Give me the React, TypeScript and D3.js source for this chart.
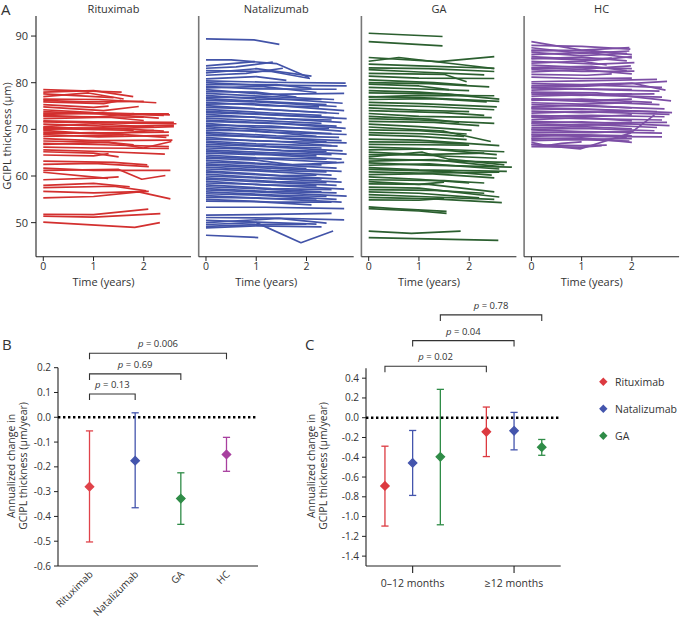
import React from "react";
import * as d3 from "d3";

// ---------- Panel A data ----------
const panelTitles = ["Rituximab", "Natalizumab", "GA", "HC"];
const yTicksA = [50, 60, 70, 80, 90];
const xTicksA = [0, 1, 2];
const colorsA = ["#d3302f", "#4253a8", "#2b5f2f", "#7c4ea5"];

// each subject: [t0, v0, t1, v1, ...] (time in years, GCIPL µm)
const rituximabTraj: number[][] = [
  [0, 78.5, 1.56, 78.0],
  [0, 78.0, 1.0, 78.3, 1.79, 77.0],
  [0, 77.6, 1.4, 76.8],
  [0, 77.0, 0.9, 77.8, 1.6, 76.5],
  [0, 76.5, 1.1, 76.4, 2.25, 75.7],
  [0, 76.2, 0.8, 75.9, 2.0, 76.0],
  [0, 75.9, 1.2, 75.5, 1.55, 76.2],
  [0, 75.3, 1.0, 74.7, 1.3, 75.0],
  [0, 74.8, 1.2, 74.0, 1.9, 74.9],
  [0, 74.2, 1.0, 73.6, 2.52, 73.1],
  [0, 73.8, 1.2, 73.3, 2.5, 73.3],
  [0, 73.5, 1.5, 73.3, 2.4, 73.0],
  [0, 73.2, 1.0, 73.5, 2.3, 72.4],
  [0, 73.0, 1.0, 72.6, 1.8, 73.4],
  [0, 72.8, 2.0, 72.6],
  [0, 72.3, 1.3, 72.6, 2.0, 71.9],
  [0, 71.8, 1.0, 71.6, 2.6, 71.5],
  [0, 71.6, 1.2, 71.4, 2.65, 71.2],
  [0, 71.1, 1.5, 70.6, 2.6, 70.9],
  [0, 70.6, 1.0, 71.2, 2.2, 70.5],
  [0, 70.4, 1.5, 70.2, 2.6, 70.6],
  [0, 70.2, 1.8, 69.8],
  [0, 70.0, 1.2, 70.3, 2.4, 69.6],
  [0, 69.8, 0.8, 69.2, 2.5, 69.4],
  [0, 69.4, 1.3, 69.0, 2.2, 69.8],
  [0, 69.1, 1.0, 69.3, 2.45, 68.3],
  [0, 68.9, 1.1, 68.4, 2.5, 68.7],
  [0, 68.5, 1.6, 68.8],
  [0, 68.0, 1.0, 67.6, 2.57, 67.7],
  [0, 67.5, 1.3, 67.2, 1.99, 66.0, 2.55, 67.4],
  [0, 67.0, 1.2, 66.7, 2.5, 66.3],
  [0, 66.8, 1.3, 67.2, 1.8, 66.7],
  [0, 66.2, 1.0, 66.0, 2.5, 65.9],
  [0, 65.6, 1.3, 65.2, 2.42, 64.7],
  [0, 65.2, 1.0, 64.9, 1.5, 64.1],
  [0, 64.5, 1.0, 64.3, 1.3, 64.8],
  [0, 63.2, 1.4, 62.9, 2.07, 62.4],
  [0, 62.5, 1.0, 62.7, 2.1, 62.0],
  [0, 61.7, 1.0, 61.2, 2.53, 61.2],
  [0, 61.2, 1.5, 61.4, 1.96, 59.3, 2.43, 60.1],
  [0, 60.8, 1.29, 59.5],
  [0, 59.2, 1.2, 59.6, 1.5, 59.8],
  [0, 58.0, 1.0, 58.4, 1.72, 57.7],
  [0, 57.5, 1.4, 57.8, 2.05, 56.8],
  [0, 56.7, 1.0, 56.4, 2.1, 56.7],
  [0, 55.3, 1.0, 55.6, 1.9, 56.6, 2.53, 55.1],
  [0, 51.8, 1.0, 51.7, 2.09, 52.9],
  [0, 51.4, 1.0, 51.2, 2.33, 51.95],
  [0, 50.1, 1.82, 49.0, 2.32, 50.0],
];

const natalizumabTraj: number[][] = [
  [0, 89.4, 0.95, 89.2, 1.46, 88.2],
  [0, 84.9, 0.5, 84.9, 1.4, 84.1, 2.05, 81.1],
  [0, 83.6, 0.97, 84.5],
  [0, 83.1, 0.6, 83.4, 1.33, 84.4],
  [0, 82.6, 1.3, 82.4, 2.07, 80.9],
  [0, 82.1, 1.0, 83.0, 2.1, 81.4],
  [0, 81.6, 0.8, 82.0, 1.53, 83.1],
  [0, 80.8, 1.0, 81.3, 1.6, 80.5],
  [0, 80.4, 1.2, 80.1, 2.78, 79.9],
  [0, 80.0, 1.0, 79.5, 2.8, 79.3],
  [0, 79.6, 1.4, 79.6, 2.1, 78.8],
  [0, 79.2, 0.9, 78.7, 2.6, 78.6],
  [0, 78.9, 1.1, 79.2, 2.2, 77.9],
  [0, 78.5, 1.2, 77.5, 2.75, 77.7],
  [0, 78.1, 1.0, 78.0, 1.8, 76.9],
  [0, 77.7, 1.3, 77.0, 2.55, 76.4],
  [0, 77.3, 1.0, 76.5, 2.3, 76.4],
  [0, 76.9, 1.1, 76.8, 2.72, 75.6],
  [0, 76.6, 1.5, 75.8, 2.4, 75.3],
  [0, 76.2, 1.0, 75.9, 2.6, 74.9],
  [0, 75.8, 1.2, 75.1, 2.25, 74.8],
  [0, 75.4, 0.9, 75.5, 2.75, 74.0],
  [0, 75.1, 1.5, 74.1, 2.4, 73.6],
  [0, 74.7, 1.0, 74.4, 2.65, 73.4],
  [0, 74.3, 1.3, 73.5, 2.3, 73.0],
  [0, 73.9, 1.0, 73.3, 2.55, 72.5],
  [0, 73.6, 1.1, 73.2, 2.8, 72.3],
  [0, 73.2, 1.4, 72.3, 2.5, 72.0],
  [0, 72.8, 1.0, 72.6, 2.7, 71.5],
  [0, 72.4, 1.2, 71.8, 2.3, 71.3],
  [0, 72.0, 1.0, 71.5, 2.6, 70.7],
  [0, 71.7, 1.5, 71.2, 2.78, 70.2],
  [0, 71.3, 1.0, 70.4, 2.45, 70.2],
  [0, 70.9, 1.3, 70.7, 2.7, 69.6],
  [0, 70.6, 1.0, 70.0, 2.5, 69.1],
  [0, 70.2, 1.2, 69.4, 2.8, 68.9],
  [0, 69.8, 1.0, 69.7, 2.2, 68.5],
  [0, 69.4, 1.4, 68.6, 2.65, 68.3],
  [0, 69.1, 1.0, 68.4, 2.7, 67.6],
  [0, 68.7, 1.1, 68.4, 2.4, 67.3],
  [0, 68.3, 1.0, 67.5, 2.8, 67.1],
  [0, 67.9, 1.3, 67.5, 2.5, 66.5],
  [0, 67.5, 1.0, 66.9, 2.62, 66.4],
  [0, 67.2, 1.2, 66.4, 2.3, 66.0],
  [0, 66.8, 1.0, 66.4, 2.72, 65.4],
  [0, 66.4, 1.5, 65.5, 2.4, 65.3],
  [0, 66.0, 1.0, 65.7, 2.8, 64.7],
  [0, 65.6, 1.2, 65.0, 2.5, 64.6],
  [0, 65.3, 1.0, 64.8, 2.2, 64.3],
  [0, 64.9, 1.3, 64.5, 2.7, 63.6],
  [0, 64.5, 1.0, 63.9, 2.4, 63.6],
  [0, 64.1, 1.1, 63.7, 2.6, 62.9],
  [0, 63.8, 1.0, 63.4, 1.72, 62.4, 2.75, 62.9],
  [0, 63.4, 1.4, 62.5, 2.3, 62.4],
  [0, 63.0, 1.0, 62.6, 2.6, 61.7],
  [0, 62.6, 1.2, 62.0, 2.0, 61.6],
  [0, 62.3, 1.0, 61.8, 2.7, 61.0],
  [0, 61.9, 1.3, 61.2, 2.4, 60.9],
  [0, 61.5, 1.0, 61.1, 2.5, 60.2],
  [0, 61.1, 1.5, 60.1, 2.2, 60.2],
  [0, 60.8, 1.0, 60.3, 2.6, 59.4],
  [0, 60.4, 1.2, 59.6, 2.3, 59.4],
  [0, 60.0, 1.0, 59.6, 2.7, 58.7],
  [0, 59.6, 1.4, 58.8, 2.4, 58.6],
  [0, 59.3, 1.0, 58.8, 2.6, 58.0],
  [0, 58.9, 1.1, 58.1, 2.2, 57.9],
  [0, 58.5, 1.0, 58.2, 2.75, 57.2],
  [0, 58.1, 1.3, 57.3, 2.5, 57.1],
  [0, 57.7, 1.0, 57.3, 2.3, 56.6],
  [0, 57.3, 1.2, 56.7, 2.6, 56.4],
  [0, 57.0, 1.0, 56.6, 2.8, 55.7],
  [0, 56.6, 1.4, 55.9, 2.4, 55.6],
  [0, 56.2, 1.0, 55.9, 2.6, 55.0],
  [0, 55.8, 1.1, 55.2, 2.2, 55.1],
  [0, 55.4, 1.0, 55.3, 2.7, 54.4],
  [0, 55.0, 1.3, 54.4, 2.5, 54.4],
  [0, 54.6, 1.0, 54.5, 2.1, 53.8],
  [0, 53.3, 1.2, 53.3, 2.75, 53.0],
  [0, 51.6, 1.0, 51.7, 2.5, 52.0],
  [0, 51.1, 1.3, 51.0, 2.75, 50.6],
  [0, 50.5, 1.0, 50.1, 2.2, 49.7],
  [0, 50.0, 1.45, 50.9, 2.4, 49.9],
  [0, 49.6, 1.0, 50.0, 1.89, 45.7, 2.53, 48.2],
  [0, 49.2, 1.1, 49.6, 2.0, 49.7],
  [0, 48.9, 1.0, 49.3, 2.3, 49.1],
  [0, 47.3, 1.04, 46.8],
];

const gaTraj: number[][] = [
  [0, 90.6, 1.47, 89.9],
  [0, 88.8, 1.47, 87.9],
  [0, 85.4, 1.4, 84.5, 2.5, 85.6],
  [0, 84.6, 0.6, 85.4, 1.9, 83.8, 2.5, 83.0],
  [0, 84.0, 1.0, 83.6, 2.5, 83.1],
  [0, 83.2, 1.2, 83.0, 2.5, 82.4],
  [0, 82.8, 1.0, 82.3, 2.3, 81.7],
  [0, 82.0, 1.5, 81.8, 1.95, 80.2],
  [0, 81.4, 1.0, 81.0, 2.5, 80.9],
  [0, 80.6, 1.3, 80.0, 1.95, 79.5],
  [0, 80.0, 1.2, 79.8, 2.4, 79.1],
  [0, 79.7, 1.0, 79.3, 1.6, 78.5],
  [0, 79.0, 1.2, 78.6, 2.0, 78.3],
  [0, 78.3, 1.0, 78.0, 2.05, 77.2],
  [0, 77.8, 1.5, 77.6, 2.6, 76.5],
  [0, 77.0, 1.0, 76.8, 2.6, 76.0],
  [0, 76.9, 1.0, 77.3, 2.5, 77.2],
  [0, 76.4, 1.3, 76.6, 2.35, 75.9],
  [0, 75.8, 1.0, 75.5, 2.55, 74.8],
  [0, 75.2, 1.2, 74.9, 2.5, 74.2],
  [0, 74.6, 1.0, 74.1, 2.0, 73.8],
  [0, 74.0, 1.5, 73.6, 2.3, 73.0],
  [0, 73.4, 1.0, 72.8, 2.45, 72.5],
  [0, 72.8, 1.2, 72.2, 1.8, 71.5],
  [0, 72.3, 1.0, 72.0, 2.5, 71.3],
  [0, 71.7, 1.3, 71.5, 2.2, 70.8],
  [0, 71.1, 1.0, 70.6, 2.05, 69.8],
  [0, 70.5, 1.5, 69.6, 2.43, 67.4],
  [0, 69.9, 1.0, 69.7, 1.95, 69.0],
  [0, 69.3, 1.2, 69.0, 1.9, 68.5],
  [0, 68.8, 1.0, 68.5, 1.95, 67.8],
  [0, 67.9, 1.0, 67.7, 2.6, 66.5],
  [0, 67.3, 1.2, 67.2, 1.95, 66.9],
  [0, 66.8, 1.0, 66.7, 2.0, 66.6],
  [0, 66.2, 1.0, 65.9, 2.7, 65.2],
  [0, 65.6, 1.2, 65.8, 2.55, 64.6],
  [0, 65.1, 1.0, 64.6, 2.3, 64.9],
  [0, 64.6, 1.0, 64.5, 2.55, 63.8],
  [0, 64.1, 1.07, 65.1, 1.6, 63.6, 2.7, 62.4],
  [0, 63.7, 1.0, 63.4, 2.75, 62.9],
  [0, 63.2, 1.3, 63.5, 2.6, 62.0],
  [0, 62.8, 1.0, 62.4, 2.85, 61.9],
  [0, 62.3, 1.2, 62.6, 2.6, 61.5],
  [0, 61.8, 1.0, 61.3, 2.75, 61.0],
  [0, 61.4, 1.5, 61.0, 2.45, 60.2],
  [0, 60.9, 1.0, 60.6, 2.6, 60.8],
  [0, 60.3, 1.2, 60.5, 2.5, 59.6],
  [0, 59.8, 1.0, 59.3, 2.0, 58.5],
  [0, 59.2, 1.5, 59.0, 2.3, 58.5],
  [0, 58.8, 1.0, 58.2, 1.5, 58.7],
  [0, 58.3, 1.2, 58.2, 2.5, 56.6],
  [0, 57.6, 1.0, 57.4, 2.6, 55.5],
  [0, 57.1, 1.3, 56.9, 2.3, 56.3],
  [0, 56.6, 1.0, 56.3, 2.2, 55.3],
  [0, 56.0, 1.0, 55.6, 2.5, 55.0],
  [0, 55.4, 1.3, 55.1, 2.65, 54.3],
  [0, 54.9, 1.0, 54.8, 1.5, 55.2],
  [0, 53.4, 0.5, 53.0, 1.55, 52.4],
  [0, 53.0, 1.0, 52.5, 1.55, 52.0],
  [0, 48.2, 0.85, 47.7, 1.83, 48.2],
  [0, 46.8, 2.58, 46.2],
];

const hcTraj: number[][] = [
  [0, 88.8, 1.0, 87.0, 1.95, 87.5],
  [0, 88.0, 1.0, 87.8, 1.97, 87.2],
  [0, 87.5, 1.0, 86.3, 1.95, 86.8],
  [0, 87.0, 1.2, 86.9, 2.0, 86.0],
  [0, 86.8, 1.0, 86.9, 1.9, 86.2],
  [0, 86.5, 1.0, 85.8, 1.9, 86.3],
  [0, 86.0, 1.1, 86.5, 2.0, 85.3],
  [0, 85.6, 1.0, 85.0, 1.6, 85.3],
  [0, 85.3, 1.2, 84.8, 2.0, 85.6],
  [0, 85.1, 1.0, 85.5, 1.9, 84.7],
  [0, 84.6, 1.3, 84.0, 2.05, 84.3],
  [0, 84.2, 1.0, 84.6, 1.5, 83.8],
  [0, 83.8, 1.0, 83.3, 2.0, 83.0],
  [0, 83.3, 1.2, 83.5, 1.9, 82.6],
  [0, 83.1, 1.0, 82.9, 1.98, 83.6],
  [0, 82.8, 1.0, 82.4, 2.05, 82.5],
  [0, 82.3, 1.0, 82.8, 2.0, 81.9],
  [0, 81.8, 1.1, 81.6, 1.6, 81.9],
  [0, 81.2, 1.0, 80.9, 2.0, 81.0],
  [0, 80.2, 1.0, 80.4, 2.5, 80.7],
  [0, 79.8, 1.0, 79.6, 2.0, 79.9, 2.67, 78.4],
  [0, 79.3, 1.2, 79.5, 2.6, 79.0],
  [0, 79.0, 1.0, 79.2, 2.7, 80.3],
  [0, 78.9, 1.0, 78.6, 2.55, 78.2],
  [0, 78.4, 1.0, 78.7, 2.0, 78.5],
  [0, 78.0, 1.3, 77.8, 2.78, 76.1],
  [0, 77.8, 1.2, 77.5, 2.45, 77.6],
  [0, 77.5, 1.0, 77.3, 2.0, 77.6],
  [0, 77.1, 1.0, 77.4, 2.6, 76.9],
  [0, 76.6, 1.2, 76.2, 2.0, 76.5],
  [0, 76.4, 1.0, 76.0, 2.55, 75.3],
  [0, 76.2, 1.0, 76.5, 2.4, 75.8],
  [0, 75.7, 1.0, 75.4, 2.0, 75.7],
  [0, 75.3, 1.1, 75.0, 2.65, 74.4],
  [0, 74.8, 1.0, 75.2, 2.0, 74.6],
  [0, 74.6, 1.0, 74.4, 2.8, 73.6],
  [0, 74.4, 1.3, 74.2, 2.5, 73.8],
  [0, 73.9, 1.0, 73.6, 2.0, 73.9],
  [0, 73.5, 1.0, 73.8, 2.75, 73.2],
  [0, 73.0, 1.2, 72.7, 2.0, 73.1],
  [0, 72.8, 1.2, 73.0, 2.65, 72.7],
  [0, 72.6, 1.0, 72.3, 2.6, 72.0],
  [0, 72.1, 1.0, 72.5, 2.0, 71.8],
  [0, 71.7, 1.1, 71.4, 2.7, 71.5],
  [0, 71.4, 1.0, 71.6, 2.75, 70.8],
  [0, 71.2, 1.0, 70.9, 2.0, 71.2],
  [0, 70.8, 1.2, 71.0, 2.5, 70.4],
  [0, 70.3, 1.0, 70.6, 2.0, 70.1],
  [0, 70.0, 1.0, 70.2, 2.45, 69.7],
  [0, 69.9, 1.0, 69.5, 2.6, 69.2],
  [0, 69.4, 1.2, 69.3, 2.0, 69.6],
  [0, 69.0, 1.0, 68.8, 2.0, 68.6],
  [0, 68.8, 1.0, 68.5, 2.6, 68.4],
  [0, 68.5, 1.0, 68.8, 1.9, 68.3],
  [0, 68.1, 1.3, 67.9, 2.0, 68.0],
  [0, 67.9, 1.0, 68.2, 2.0, 67.2],
  [0, 67.6, 0.9, 67.8, 1.95, 67.5],
  [0, 67.2, 0.3, 66.5, 0.6, 67.0, 1.0, 67.3],
  [0, 66.7, 1.0, 66.5, 1.5, 66.6],
  [0, 66.3, 1.0, 66.2, 1.4, 66.5],
  [0, 66.8, 0.97, 65.8, 1.97, 69.2, 2.45, 73.1],
];

const trajectories = [rituximabTraj, natalizumabTraj, gaTraj, hcTraj];

// ---------- Panel B data ----------
const groupsB = ["Rituximab", "Natalizumab", "GA", "HC"];
const colorsB = ["#e0434a", "#4455ad", "#2f8c47", "#a8409f"];
const meanB = [-0.28, -0.175, -0.328, -0.15];
const lowB = [-0.503, -0.365, -0.432, -0.218];
const highB = [-0.055, 0.018, -0.224, -0.081];
const yTicksB = [0.2, 0.1, 0, -0.1, -0.2, -0.3, -0.4, -0.5, -0.6];
const pPairsB = [[0, 1], [0, 2], [0, 3]];
const pLabelsB = ["0.13", "0.69", "0.006"];
const pLevelsB = [0.094, 0.175, 0.258];

// ---------- Panel C data ----------
const periodsC = ["0–12 months", "≥12 months"];
const seriesC = ["Rituximab", "Natalizumab", "GA"];
const colorsC = ["#dc3a40", "#4455ad", "#2f8c47"];
const meanC = [[-0.69, -0.142], [-0.457, -0.132], [-0.396, -0.298]];
const lowC = [[-1.096, -0.393], [-0.786, -0.325], [-1.083, -0.38]];
const highC = [[-0.288, 0.108], [-0.129, 0.054], [0.287, -0.22]];
const yTicksC = [0.4, 0.2, 0, -0.2, -0.4, -0.6, -0.8, -1.0, -1.2, -1.4];
// bracket: [series, period] -> [series, period]
const pPairsC = [[[0, 0], [0, 1]], [[1, 0], [1, 1]], [[2, 0], [2, 1]]];
const pLabelsC = ["0.02", "0.04", "0.78"];
const pLevelsC = [0.52, 0.78, 1.04];

const FONT = "'Open Sans', 'Noto Sans', sans-serif";
const TXT = "#333";

const fmt = (v: number) => (v === 0 ? "0.0" : d3.format(".1f")(v).replace("−", "-"));

function Diamond({ x, y, r, fill }: { x: number; y: number; r: number; fill: string }) {
  return <path d={`M${x},${y - r}L${x + r},${y}L${x},${y + r}L${x - r},${y}Z`} fill={fill} />;
}

function ErrorBar({ x, yLo, yHi, yMid, color }: any) {
  const cw = 3.6;
  return (
    <g stroke={color} strokeWidth={1.3} fill="none">
      <line x1={x} x2={x} y1={yHi} y2={yLo} />
      <line x1={x - cw} x2={x + cw} y1={yHi} y2={yHi} />
      <line x1={x - cw} x2={x + cw} y1={yLo} y2={yLo} />
      <Diamond x={x} y={yMid} r={4.2} fill={color} />
    </g>
  );
}

function Bracket({ x1, x2, y, label }: { x1: number; x2: number; y: number; label: string }) {
  return (
    <g>
      <path d={`M${x1},${y + 6}V${y}H${x2}V${y + 6}`} fill="none" stroke="#333" strokeWidth={1.1} />
      <text x={(x1 + x2) / 2} y={y - 6} textAnchor="middle" fontSize={9.5} fill={TXT} fontFamily={FONT}>
        <tspan fontStyle="italic">p</tspan> = {label}
      </text>
    </g>
  );
}

export default function App() {
  // ---------- Panel A scales ----------
  const yA = d3.scaleLinear().domain([42.7, 94.3]).range([256.7, 16]);
  const panelW = 155;
  const panelStep = 162.7;
  const firstLeft = 36;

  // ---------- Panel B scales ----------
  const xB = d3.scalePoint<string>().domain(groupsB).range([58, 258]).padding(0.69);
  const yB = d3.scaleLinear().domain([-0.6, 0.2]).range([566, 367.7]);

  // ---------- Panel C scales ----------
  const xC = d3.scalePoint<string>().domain(periodsC).range([366, 560.7]).padding(0.46);
  const yC = d3.scaleLinear().domain([-1.5, 0.5]).range([566, 368.3]);
  const offC = d3.scalePoint<string>().domain(seriesC).range([-27.7, 27.7]);
  const cx = (s: number, p: number) => (xC(periodsC[p]) as number) + (offC(seriesC[s]) as number);

  return (
    <svg width={680} height={620} style={{ position: "absolute", left: 0, top: 0, background: "#fff" }} fontFamily={FONT}>
      <rect width={680} height={620} fill="#fff" />
      {/* ================= Panel A ================= */}
      <text x={1} y={15} fontSize={15} fill={TXT}>A</text>
      <text transform="translate(11,136) rotate(-90)" textAnchor="middle" fontSize={11} fill={TXT}>
        GCIPL thickness (μm)
      </text>
      {panelTitles.map((title, i) => {
        const left = firstLeft + i * panelStep;
        const xA = d3.scaleLinear().domain([-0.145, 2.94]).range([left, left + panelW]);
        const line = d3
          .line<number[]>()
          .x((d) => xA(d[0]))
          .y((d) => yA(d[1]));
        return (
          <g key={title}>
            <text x={left + panelW / 2} y={13} textAnchor="middle" fontSize={11} fill={TXT}>
              {title}
            </text>
            <g fill="none" stroke={colorsA[i]} strokeWidth={1.7} strokeLinejoin="round">
              {trajectories[i].map((flat, k) => {
                const pts: number[][] = [];
                for (let j = 0; j < flat.length; j += 2) pts.push([flat[j], flat[j + 1]]);
                return <path key={k} d={line(pts) || ""} />;
              })}
            </g>
            {/* left axis */}
            {i === 0 ? (
              <g>
                <line x1={left} x2={left} y1={16} y2={256.7} stroke="#222" strokeWidth={1.1} />
                {yTicksA.map((t) => (
                  <g key={t}>
                    <line x1={left - 5} x2={left} y1={yA(t)} y2={yA(t)} stroke="#222" strokeWidth={1} />
                    <text x={left - 8} y={yA(t) + 4} textAnchor="end" fontSize={11} fill={TXT}>
                      {t}
                    </text>
                  </g>
                ))}
              </g>
            ) : (
              <line x1={left} x2={left} y1={16} y2={256.7} stroke="#777" strokeWidth={1.6} />
            )}
            {/* bottom axis */}
            <line x1={left} x2={left + panelW} y1={256.7} y2={256.7} stroke="#222" strokeWidth={1.1} />
            {xTicksA.map((t) => (
              <g key={t}>
                <line x1={xA(t)} x2={xA(t)} y1={256.7} y2={261} stroke="#222" strokeWidth={1} />
                <text x={xA(t)} y={270} textAnchor="middle" fontSize={10.5} fill={TXT}>
                  {t}
                </text>
              </g>
            ))}
            <text x={xA(1.2)} y={286} textAnchor="middle" fontSize={11} fill={TXT}>
              Time (years)
            </text>
          </g>
        );
      })}

      {/* ================= Panel B ================= */}
      <text x={2} y={350} fontSize={15} fill={TXT}>B</text>
      <text transform="translate(15,466) rotate(-90)" textAnchor="middle" fontSize={10.5} fill={TXT}>
        Annualized change in
      </text>
      <text transform="translate(27,466) rotate(-90)" textAnchor="middle" fontSize={10.5} fill={TXT}>
        GCIPL thickness (μm/year)
      </text>
      <line x1={58} x2={58} y1={yB(0.2)} y2={566} stroke="#222" strokeWidth={1.1} />
      <line x1={58} x2={258} y1={566} y2={566} stroke="#222" strokeWidth={1.1} />
      {yTicksB.map((t) => (
        <g key={t}>
          <line x1={54} x2={58} y1={yB(t)} y2={yB(t)} stroke="#222" strokeWidth={1} />
          <text x={51} y={yB(t) + 3.5} textAnchor="end" fontSize={10} fill={TXT}>
            {fmt(t)}
          </text>
        </g>
      ))}
      <line x1={58} x2={257} y1={yB(0)} y2={yB(0)} stroke="#000" strokeWidth={2.6} strokeDasharray="2.4,2.6" />
      {groupsB.map((g, i) => {
        const x = xB(g) as number;
        return (
          <g key={g}>
            <ErrorBar x={x} yLo={yB(lowB[i])} yHi={yB(highB[i])} yMid={yB(meanB[i])} color={colorsB[i]} />
            <text
              transform={`translate(${x + 4},${575}) rotate(-45)`}
              textAnchor="end"
              fontSize={10}
              fill={TXT}
            >
              {g}
            </text>
          </g>
        );
      })}
      {pPairsB.map((pr, k) => (
        <Bracket
          key={k}
          x1={xB(groupsB[pr[0]]) as number}
          x2={xB(groupsB[pr[1]]) as number}
          y={yB(pLevelsB[k])}
          label={pLabelsB[k]}
        />
      ))}

      {/* ================= Panel C ================= */}
      <text x={305} y={350} fontSize={15} fill={TXT}>C</text>
      <text transform="translate(315,466) rotate(-90)" textAnchor="middle" fontSize={10.5} fill={TXT}>
        Annualized change in
      </text>
      <text transform="translate(327,466) rotate(-90)" textAnchor="middle" fontSize={10.5} fill={TXT}>
        GCIPL thickness (μm/year)
      </text>
      <line x1={366} x2={366} y1={yC(0.5)} y2={566} stroke="#222" strokeWidth={1.1} />
      <line x1={366} x2={560.7} y1={566} y2={566} stroke="#222" strokeWidth={1.1} />
      {yTicksC.map((t) => (
        <g key={t}>
          <line x1={362} x2={366} y1={yC(t)} y2={yC(t)} stroke="#222" strokeWidth={1} />
          <text x={359} y={yC(t) + 3.5} textAnchor="end" fontSize={10} fill={TXT}>
            {fmt(t)}
          </text>
        </g>
      ))}
      {periodsC.map((p) => (
        <g key={p}>
          <line x1={xC(p) as number} x2={xC(p) as number} y1={566} y2={573} stroke="#222" strokeWidth={1.1} />
          <text x={xC(p) as number} y={586.5} textAnchor="middle" fontSize={10.5} fill={TXT}>
            {p}
          </text>
        </g>
      ))}
      <line x1={366} x2={560} y1={yC(0)} y2={yC(0)} stroke="#000" strokeWidth={2.6} strokeDasharray="2.4,2.6" />
      {seriesC.map((s, si) =>
        periodsC.map((p, pi) => (
          <ErrorBar
            key={s + p}
            x={cx(si, pi)}
            yLo={yC(lowC[si][pi])}
            yHi={yC(highC[si][pi])}
            yMid={yC(meanC[si][pi])}
            color={colorsC[si]}
          />
        ))
      )}
      {pPairsC.map((pr, k) => (
        <Bracket
          key={k}
          x1={cx(pr[0][0], pr[0][1])}
          x2={cx(pr[1][0], pr[1][1])}
          y={yC(pLevelsC[k])}
          label={pLabelsC[k]}
        />
      ))}
      {seriesC.map((s, si) => (
        <g key={s}>
          <Diamond x={603.3} y={381.7 + si * 27} r={4.2} fill={colorsC[si]} />
          <text x={615} y={381.7 + si * 27 + 4} fontSize={10.5} fill={TXT}>
            {s}
          </text>
        </g>
      ))}
    </svg>
  );
}
